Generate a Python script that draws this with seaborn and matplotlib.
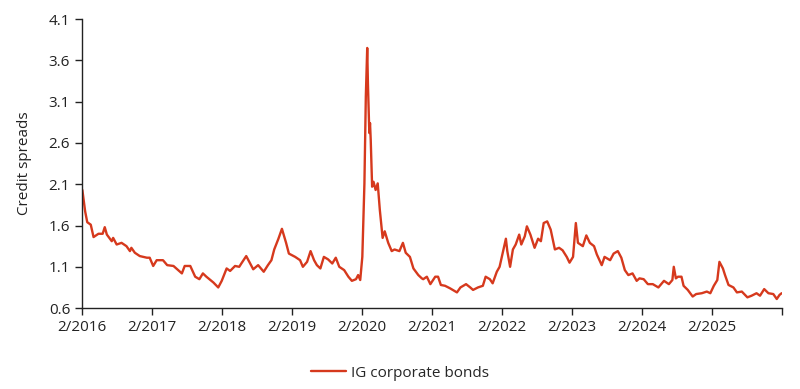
import numpy as np
import pandas as pd
import matplotlib.pyplot as plt
import matplotlib.dates as mdates
import seaborn as sns

# decimal years and spread values
years = [
    2016.09, 2016.13, 2016.16, 2016.21, 2016.25, 2016.32, 2016.38, 2016.41, 2016.44, 2016.51,
    2016.53, 2016.58, 2016.65, 2016.72, 2016.77, 2016.79, 2016.84, 2016.91, 2017.01, 2017.05,
    2017.10, 2017.15, 2017.24, 2017.30, 2017.39, 2017.51, 2017.55, 2017.63, 2017.70, 2017.76,
    2017.81, 2017.86, 2017.96, 2018.03, 2018.08, 2018.15, 2018.20, 2018.27, 2018.33, 2018.36,
    2018.43, 2018.48, 2018.53, 2018.60, 2018.68, 2018.74, 2018.79, 2018.83, 2018.89, 2018.94,
    2019.00, 2019.04, 2019.13, 2019.20, 2019.24, 2019.30, 2019.35, 2019.40, 2019.44, 2019.49,
    2019.54, 2019.60, 2019.66, 2019.71, 2019.76, 2019.83, 2019.89, 2019.94, 2020.00, 2020.03,
    2020.06, 2020.09, 2020.12, 2020.14, 2020.16, 2020.17, 2020.19, 2020.20, 2020.21, 2020.23,
    2020.25, 2020.28, 2020.31, 2020.34, 2020.38, 2020.41, 2020.46, 2020.51, 2020.55, 2020.62,
    2020.67, 2020.71, 2020.77, 2020.82, 2020.89, 2020.94, 2020.96, 2021.01, 2021.06, 2021.13,
    2021.17, 2021.21, 2021.27, 2021.34, 2021.44, 2021.49, 2021.57, 2021.63, 2021.67, 2021.74,
    2021.81, 2021.85, 2021.91, 2021.95, 2022.01, 2022.05, 2022.09, 2022.14, 2022.16, 2022.20,
    2022.24, 2022.28, 2022.33, 2022.36, 2022.41, 2022.44, 2022.49, 2022.55, 2022.60, 2022.64,
    2022.68, 2022.73, 2022.78, 2022.84, 2022.90, 2022.95, 2023.01, 2023.05, 2023.10, 2023.14,
    2023.17, 2023.24, 2023.29, 2023.34, 2023.40, 2023.44, 2023.51, 2023.55, 2023.63, 2023.68,
    2023.74, 2023.79, 2023.84, 2023.89, 2023.95, 2024.01, 2024.05, 2024.11, 2024.17, 2024.24,
    2024.32, 2024.40, 2024.47, 2024.52, 2024.54, 2024.57, 2024.60, 2024.65, 2024.68, 2024.74,
    2024.81, 2024.86, 2024.94, 2025.01, 2025.06, 2025.11, 2025.16, 2025.19, 2025.24, 2025.27,
    2025.32, 2025.39, 2025.44, 2025.51, 2025.59, 2025.65, 2025.72, 2025.77, 2025.83, 2025.89,
    2025.96, 2026.01, 2026.05, 2026.08,
]
spreads = [
    2.03, 1.77, 1.64, 1.61, 1.46, 1.50, 1.50, 1.58, 1.49, 1.41,
    1.45, 1.37, 1.39, 1.35, 1.29, 1.33, 1.27, 1.23, 1.21, 1.21,
    1.11, 1.18, 1.18, 1.12, 1.11, 1.02, 1.11, 1.11, 0.98, 0.95,
    1.02, 0.98, 0.91, 0.85, 0.93, 1.08, 1.05, 1.11, 1.10, 1.14,
    1.23, 1.15, 1.07, 1.12, 1.04, 1.12, 1.18, 1.31, 1.44, 1.56,
    1.39, 1.26, 1.22, 1.18, 1.10, 1.16, 1.29, 1.18, 1.12, 1.08,
    1.22, 1.19, 1.14, 1.21, 1.10, 1.06, 0.98, 0.93, 0.95, 1.00,
    0.94, 1.22, 2.11, 3.16, 3.75, 3.32, 2.72, 2.84, 2.64, 2.07,
    2.13, 2.03, 2.11, 1.79, 1.45, 1.53, 1.39, 1.29, 1.31, 1.29,
    1.39, 1.27, 1.22, 1.08, 1.00, 0.96, 0.95, 0.98, 0.89, 0.98,
    0.98, 0.88, 0.87, 0.84, 0.79, 0.85, 0.89, 0.85, 0.82, 0.85,
    0.87, 0.98, 0.95, 0.90, 1.04, 1.10, 1.25, 1.44, 1.29, 1.10,
    1.31, 1.37, 1.49, 1.37, 1.47, 1.59, 1.49, 1.33, 1.44, 1.41,
    1.63, 1.65, 1.55, 1.31, 1.33, 1.30, 1.22, 1.15, 1.22, 1.63,
    1.39, 1.35, 1.48, 1.39, 1.35, 1.25, 1.12, 1.22, 1.18, 1.26,
    1.29, 1.21, 1.06, 1.00, 1.02, 0.93, 0.96, 0.95, 0.89, 0.89,
    0.85, 0.93, 0.89, 0.94, 1.10, 0.96, 0.98, 0.98, 0.87, 0.82,
    0.74, 0.77, 0.78, 0.80, 0.78, 0.87, 0.94, 1.16, 1.08, 1.00,
    0.88, 0.85, 0.79, 0.80, 0.73, 0.75, 0.78, 0.75, 0.83, 0.78,
    0.77, 0.71, 0.76, 0.78,
]
tick_years = list(range(2016, 2027))
yticks = [0.6, 1.1, 1.6, 2.1, 2.6, 3.1, 3.6, 4.1]


def to_date(y):
    yr = int(y)
    return pd.Timestamp(yr, 1, 1) + pd.Timedelta(days=(y - yr) * 365.25)


df = pd.DataFrame({"date": [to_date(y) for y in years], "spread": spreads})

sns.set_style("white")
plt.rcParams["font.family"] = ["Open Sans", "DejaVu Sans"]

fig, ax = plt.subplots(figsize=(8, 3.89), dpi=100)
fig.subplots_adjust(left=0.1025, right=0.9775, top=0.951, bottom=0.208)

sns.lineplot(data=df, x="date", y="spread", ax=ax, color="#d6391d",
             linewidth=1.7, label="IG corporate bonds")

ax.set_xlim(pd.Timestamp(2016, 2, 1), pd.Timestamp(2026, 2, 1))
ax.set_ylim(0.6, 4.1)
ax.set_yticks(yticks)
ax.set_yticklabels([f"{v:.1f}" for v in yticks])
xt = [pd.Timestamp(y, 2, 1) for y in tick_years]
ax.set_xticks(xt)
ax.set_xticklabels([f"2/{y}" if y < 2026 else "" for y in tick_years])

ax.set_xlabel("")
ax.set_ylabel("Credit spreads", fontsize=11, color="#222222", labelpad=12)
ax.tick_params(axis="both", labelsize=11, colors="#222222", direction="out",
               length=5, width=1, bottom=True, left=True)
for s in ["top", "right"]:
    ax.spines[s].set_visible(False)
for s in ["left", "bottom"]:
    ax.spines[s].set_color("#222222")
    ax.spines[s].set_linewidth(1)

ax.legend(loc="upper center", bbox_to_anchor=(0.5, 0.095), bbox_transform=fig.transFigure,
          frameon=False, fontsize=11, handlelength=2.3, handletextpad=0.3)

fig.savefig("out.png", dpi=100)
